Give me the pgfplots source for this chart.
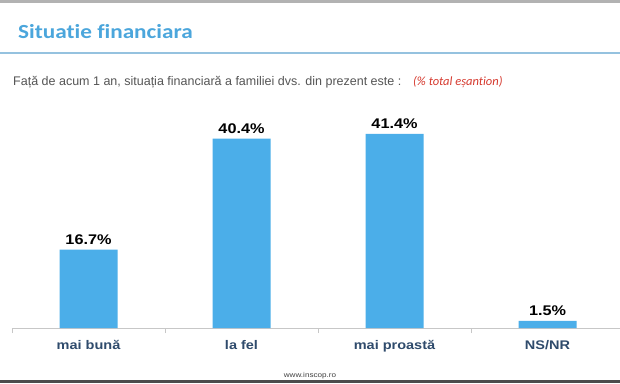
\documentclass[border=0pt]{standalone}
\usepackage{graphicx}
\usepackage{pgfplots}
\pgfplotsset{compat=1.18}
\usepackage{fontspec}
\setmainfont{Liberation Sans}
\newfontfamily\titlefont[Ligatures={NoCommon}]{Carlito}
\definecolor{barblue}{HTML}{4BAEE9}
\definecolor{titleblue}{HTML}{4BA6DC}
\definecolor{linebl}{HTML}{95C2DF}
\definecolor{catcol}{HTML}{2F4B6C}
\definecolor{subgray}{HTML}{555555}
\definecolor{redtxt}{HTML}{D63A2F}
\newcommand\hs[1]{\scalebox{1.16}[1]{#1}}
\begin{document}
\begin{tikzpicture}[x=1pt,y=1pt]
\useasboundingbox[fill=white] (0,0) rectangle (620,383);
% frame lines
\fill[gray!60] (0,380) rectangle (620,383);
\fill[black!70] (0,0) rectangle (620,3.5);
\draw[linebl, line width=1.6pt] (0,330) -- (620,330);
\node[anchor=west, font=\titlefont\bfseries\fontsize{20}{23}\selectfont, text=titleblue, inner sep=0pt] at (18,351) {\hs{Situatie financiara}};
\node[anchor=west, inner sep=0pt, font=\fontsize{12.5}{14}\selectfont, text=subgray] at (13,301) {Față de acum 1 an, situația financiară a familiei dvs. din prezent este :};
\node[anchor=west, inner sep=0pt, font=\titlefont\itshape\fontsize{12.5}{14}\selectfont, text=redtxt] at (413,301) {(\% total eșantion)};
\node[font=\fontsize{7}{8}\selectfont, text=black!75, inner sep=0pt] at (310,7.5) {\hs{www.inscop.ro}};
\begin{axis}[
  at={(12pt,55pt)}, anchor=south west,
  scale only axis, width=612pt, height=234.5pt,
  xmin=-0.5, xmax=3.5, ymin=0, ymax=50,
  axis x line=bottom, axis y line=none,
  axis line style={-, black!22, line width=0.8pt},
  xtick={0,1,2,3},
  xticklabels={\hs{mai bună}, \hs{la fel}, \hs{mai proastă}, \hs{NS/NR}},
  minor xtick={-0.5,0.5,1.5,2.5,3.5},
  major tick length=0pt, minor tick length=5pt,
  tick align=outside,
  minor tick style={black!22, line width=0.8pt},
  xticklabel style={font=\bfseries\fontsize{12.5}{15}\selectfont, text=catcol, yshift=-9pt},
  /pgf/number format/assume math mode=true,
  ybar, bar width=58pt,
  nodes near coords={\hs{\pgfmathprintnumber[fixed,precision=1,fixed zerofill]{\pgfplotspointmeta}\%}},
  nodes near coords style={font=\bfseries\fontsize{14}{16}\selectfont, text=black, inner sep=0pt, anchor=south, yshift=5pt},
]
\addplot[fill=barblue, draw=none] coordinates {(0,16.7) (1,40.4) (2,41.4) (3,1.5)};
\end{axis}
\end{tikzpicture}
\end{document}
